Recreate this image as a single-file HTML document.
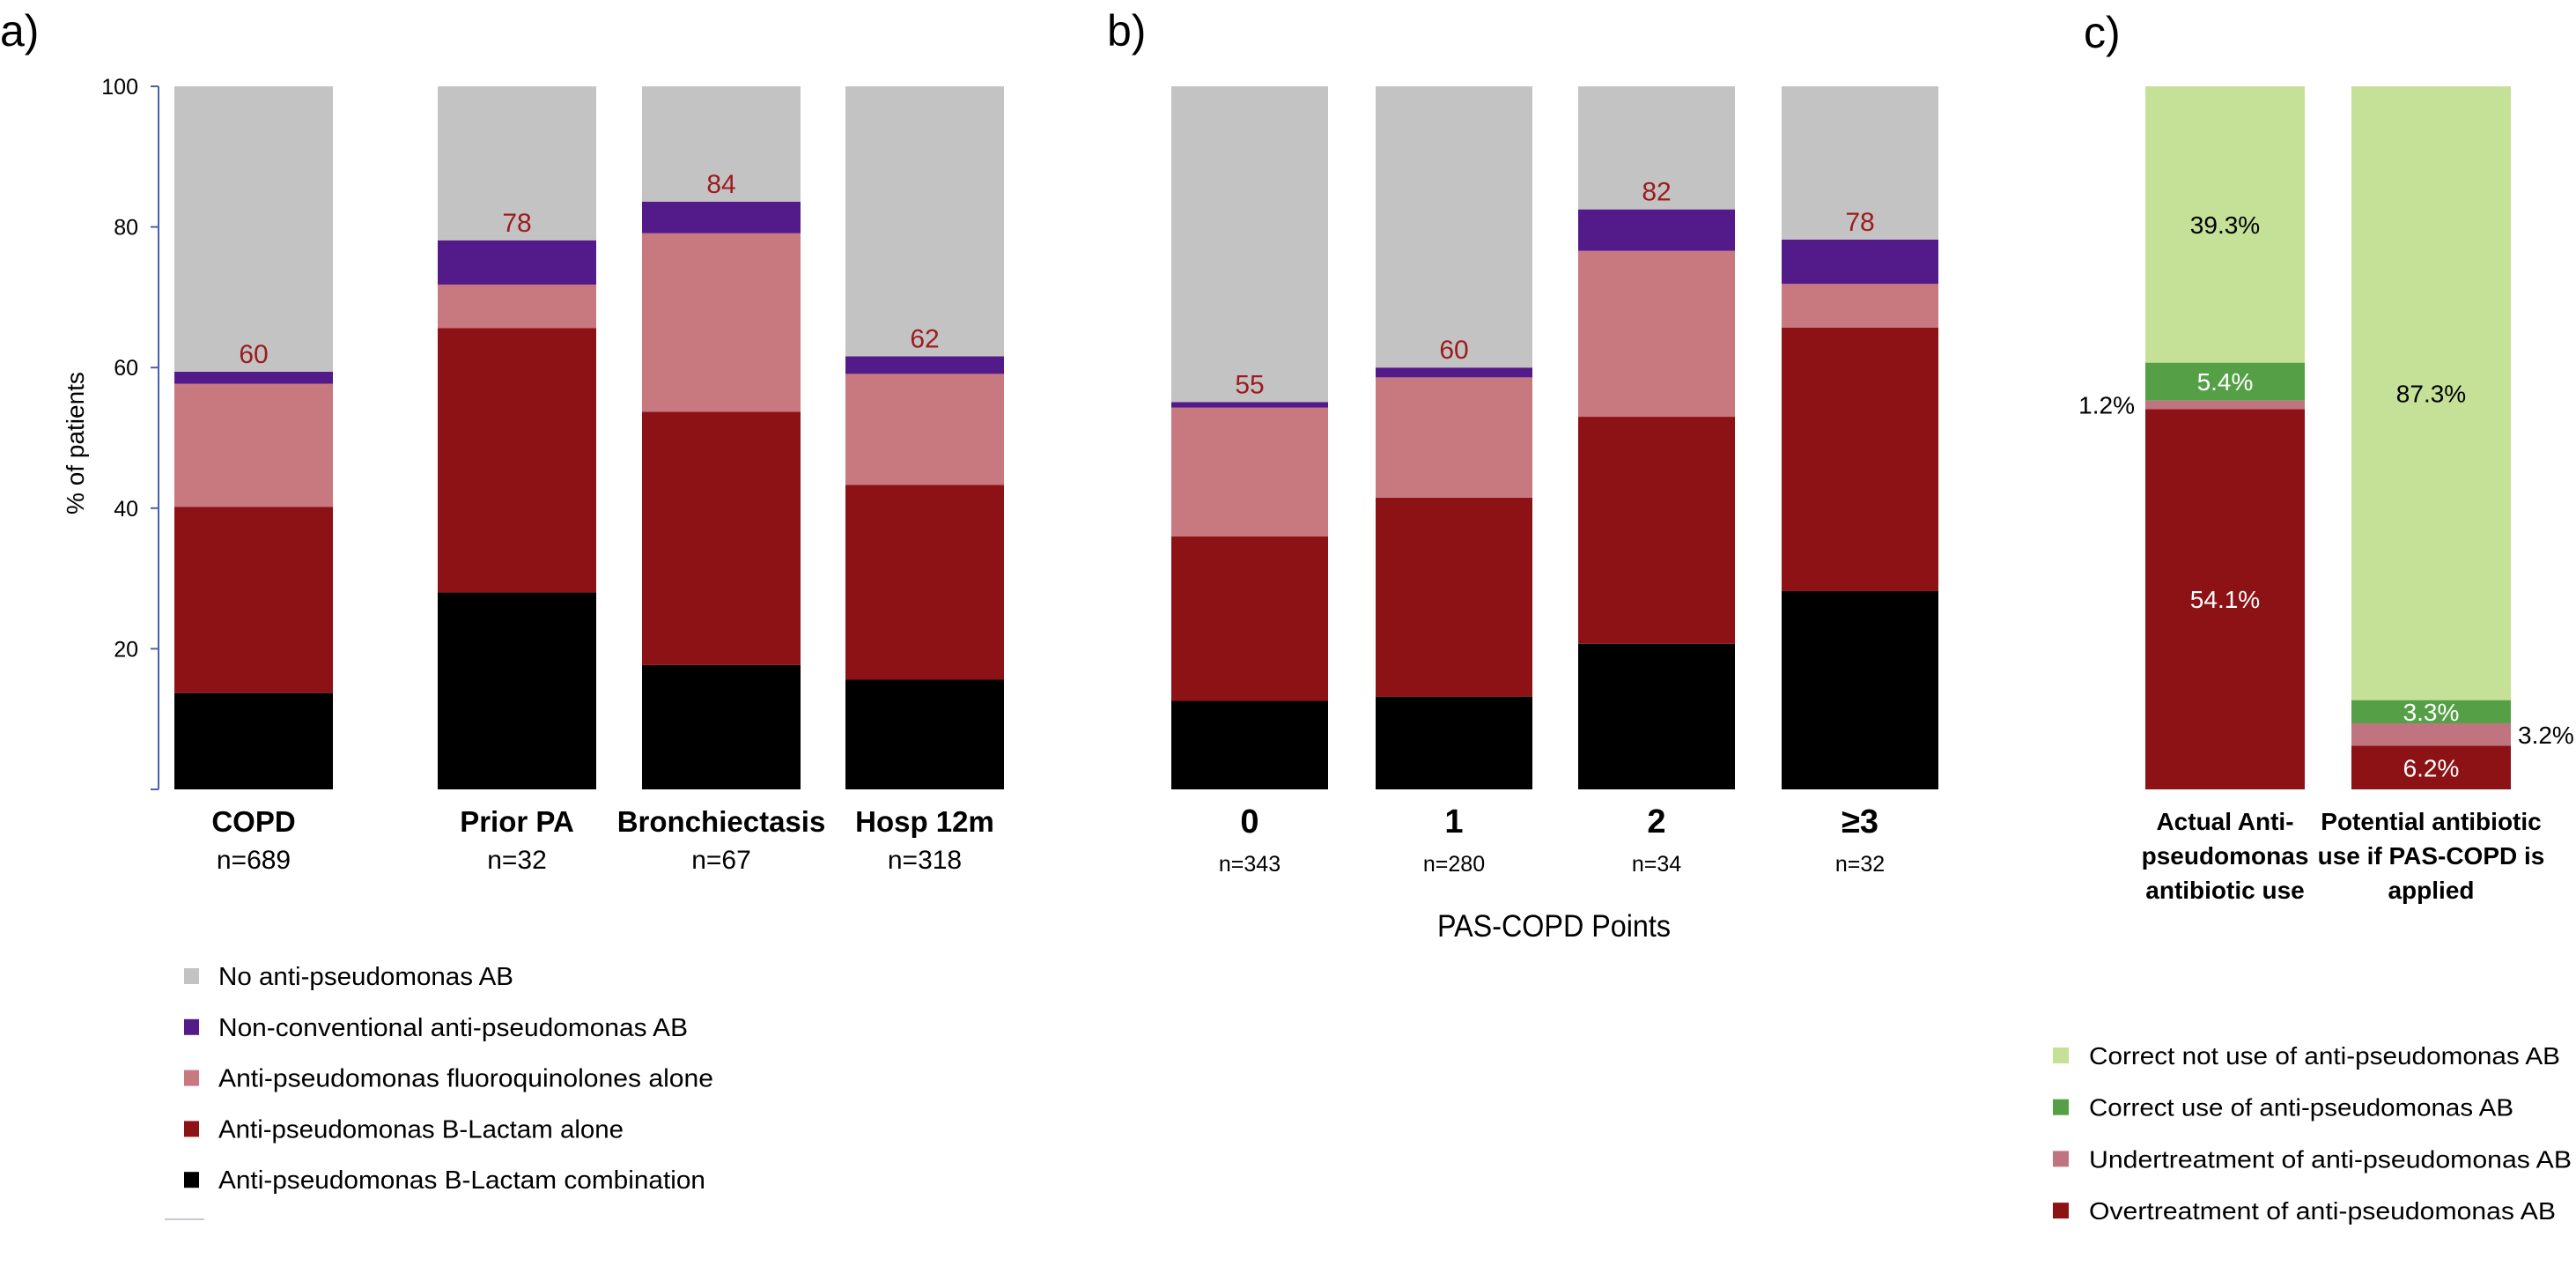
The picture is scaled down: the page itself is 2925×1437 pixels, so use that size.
<!DOCTYPE html>
<html><head><meta charset="utf-8"><style>
html,body{margin:0;padding:0;background:#fff}
svg{display:block;font-family:"Liberation Sans",sans-serif}
</style></head><body>
<svg id="chart" width="2925" height="1437" viewBox="0 0 2925 1437">
<text x="0" y="52" font-size="50">a)</text>
<text x="1257" y="52" font-size="50">b)</text>
<text x="2366" y="54" font-size="50">c)</text>
</svg>
<script>
// Panel a data
const catsA = ["COPD","Prior PA","Bronchiectasis","Hosp 12m"];
const nA = ["n=689","n=32","n=67","n=318"];
const comboA = [13.7, 28.0, 17.7, 15.6];
const blAloneA = [26.5, 37.6, 36.0, 27.7];
const fluoroA = [17.5, 6.2, 25.4, 15.8];
const nonconvA = [1.7, 6.3, 4.5, 2.5];
const labelA = ["60","78","84","62"];
// Panel b data
const catsB = ["0","1","2","≥3"];
const nB = ["n=343","n=280","n=34","n=32"];
const comboB = [12.6, 13.2, 20.7, 28.2];
const blAloneB = [23.4, 28.3, 32.3, 37.5];
const fluoroB = [18.3, 17.1, 23.6, 6.2];
const nonconvB = [0.8, 1.4, 5.9, 6.3];
const labelB = ["55","60","82","78"];
// Panel c data
const overC = [54.1, 6.2];
const underC = [1.2, 3.2];
const correctUseC = [5.4, 3.3];
const correctNotC = [39.3, 87.3];

const svg = document.getElementById('chart');
const NS = 'http://www.w3.org/2000/svg';
const Y0 = 896, Y100 = 98;
function y(v){ return Y0 - (Y0 - Y100) * v / 100; }
function mk(tag, attrs, txt){
  const e = document.createElementNS(NS, tag);
  for (const k in attrs) e.setAttribute(k, attrs[k]);
  if (txt !== undefined) e.textContent = txt;
  svg.appendChild(e);
  return e;
}
const GRAY='#c4c3c4', PURP='#531b8a', PINK='#c8787f', RED='#8c1216', BLK='#000000';

// y axis panel a
let ax = mk('line',{x1:180,y1:Y100,x2:180,y2:Y0,stroke:'#4a5fb0','stroke-width':2});


const ticks = [0,20,40,60,80,100];
ticks.forEach(t=>{
  const tl = mk('line',{x1:171,y1:y(t),x2:180,y2:y(t),stroke:'#4a5fb0','stroke-width':2});
  
  
  if (t>0){
    const tx = mk('text',{x:157,y:y(t)+9,'font-size':25,'text-anchor':'end'}, String(t));
    
    
  }
});
let yt = mk('text',{x:0,y:0,'font-size':28,'text-anchor':'middle',transform:'translate(95,503) rotate(-90)'},'% of patients');



function stacked(xs, w, series, colors, names){
  xs.forEach((x0,i)=>{
    let cum = 0;
    series.forEach((s,j)=>{
      const v = s[i];
      const r = mk('rect',{x:x0,y:y(cum+v),width:w,height:y(cum)-y(cum+v),fill:colors[j]});
      
      
      cum += v;
    });
    const r = mk('rect',{x:x0,y:Y100,width:w,height:y(cum)-Y100,fill:GRAY});
    
    
  });
}
function topOf(arrs,i){ return arrs.reduce((a,s)=>a+s[i],0); }

// Panel a bars
const xA = [198,497,729,960], wA = 180;
stacked(xA, wA, [comboA,blAloneA,fluoroA,nonconvA], [BLK,RED,PINK,PURP], ['combo','blactam','fluoro','nonconv']);
xA.forEach((x0,i)=>{
  const cx = x0+wA/2;
  const t = topOf([comboA,blAloneA,fluoroA,nonconvA],i);
  const l = mk('text',{x:cx,y:y(t)-10,'font-size':30,'text-anchor':'middle',fill:'#9b1b1f'},labelA[i]);
  
  
  const c = mk('text',{x:cx,y:944,'font-size':33,'font-weight':'bold','text-anchor':'middle'},catsA[i]);
  
  
  const n = mk('text',{x:cx,y:986,'font-size':30,'text-anchor':'middle'},nA[i]);
  
  
});

// Panel b bars
const xB = [1330,1562,1792,2023], wB = 178;
stacked(xB, wB, [comboB,blAloneB,fluoroB,nonconvB], [BLK,RED,PINK,PURP], ['combo','blactam','fluoro','nonconv']);
xB.forEach((x0,i)=>{
  const cx = x0+wB/2;
  const t = topOf([comboB,blAloneB,fluoroB,nonconvB],i);
  const l = mk('text',{x:cx,y:y(t)-10,'font-size':30,'text-anchor':'middle',fill:'#9b1b1f'},labelB[i]);
  
  
  const c = mk('text',{x:cx,y:945,'font-size':38,'font-weight':'bold','text-anchor':'middle'},catsB[i]);
  
  
  const n = mk('text',{x:cx,y:989,'font-size':25,'text-anchor':'middle'},nB[i]);
  
  
});
let pt = mk('text',{x:1632,y:1063,'font-size':35,textLength:265,lengthAdjust:'spacingAndGlyphs'},'PAS-COPD Points');



// Panel c bars
const xC = [2436,2670], wC = 181;
const cSeries = [overC, underC, correctUseC, correctNotC];
const cColors = [RED,'#c07480','#55a046','#c5e197'];
const cNames = ['overtreatment','undertreatment','correct-use','correct-not-use'];
xC.forEach((x0,i)=>{
  let cum = 0;
  cSeries.forEach((s,j)=>{
    const v = s[i];
    const r = mk('rect',{x:x0,y:y(cum+v),width:wC,height:y(cum)-y(cum+v),fill:cColors[j]});
    
    
    const mid = (y(cum)+y(cum+v))/2;
    const cx = x0+wC/2;
    let lx = cx, anchor='middle', fill = (j==3)?'#000':'#fff';
    if (j==1){ fill='#000'; if(i==0){lx=x0-12;anchor='end';} else {lx=x0+wC+8;anchor='start';} }
    const lab = mk('text',{x:lx,y:mid+10,'font-size':28,'text-anchor':anchor,fill:fill}, v.toFixed(1)+'%');
    
    
    cum += v;
  });
});
const catC = [["Actual Anti-","pseudomonas","antibiotic use"],["Potential antibiotic","use if PAS-COPD is","applied"]];
catC.forEach((lines,i)=>{
  lines.forEach((ln,k)=>{
    const t = mk('text',{x:xC[i]+wC/2,y:942+k*39,'font-size':28,'font-weight':'bold','text-anchor':'middle'},ln);
    
    
  });
});

// Legend a
const legA = ["No anti-pseudomonas AB","Non-conventional anti-pseudomonas AB","Anti-pseudomonas fluoroquinolones alone","Anti-pseudomonas B-Lactam alone","Anti-pseudomonas B-Lactam combination"];
const legAc = [GRAY,PURP,PINK,RED,BLK];
const legAw = [335,533,562,460,553];
legA.forEach((s,i)=>{
  const cy = 1108 + i*57.8;
  const r = mk('rect',{x:209,y:cy-9,width:17,height:18,fill:legAc[i]});
  
  
  const t = mk('text',{x:248,y:cy+10,'font-size':29,textLength:legAw[i],lengthAdjust:'spacingAndGlyphs'},s);
  
  
});
let gl = mk('line',{x1:187,y1:1384,x2:232,y2:1384,stroke:'#c8c8d8','stroke-width':2});



// Legend c
const legC = ["Correct not use of anti-pseudomonas AB","Correct use of anti-pseudomonas AB","Undertreatment of anti-pseudomonas AB","Overtreatment of anti-pseudomonas AB"];
const legCc = ['#c5e197','#55a046','#c07480',RED];
const legCw = [535,482,548,530];
legC.forEach((s,i)=>{
  const cy = 1198 + i*58.7;
  const r = mk('rect',{x:2331,y:cy-9,width:18,height:18,fill:legCc[i]});
  
  
  const t = mk('text',{x:2372,y:cy+10,'font-size':28,textLength:legCw[i],lengthAdjust:'spacingAndGlyphs'},s);
  
  
});
</script>
</body></html>
